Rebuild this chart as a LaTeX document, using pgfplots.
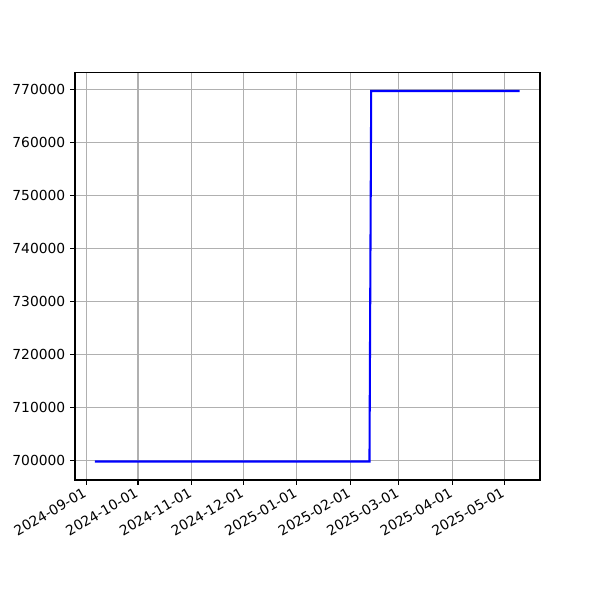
\documentclass[border=0pt]{standalone}
\usepackage{pgfplots}
\pgfplotsset{compat=1.18}
\usepackage{fontspec}
\setmainfont{DejaVu Sans}
\begin{document}
\begin{tikzpicture}
\path[use as bounding box] (-54.2pt,-86.7pt) rectangle (379.4pt,346.9pt);
\begin{axis}[
  at={(0,0)}, anchor=south west,
  scale only axis,
  width=336.0pt, height=294.5pt,
  xmin=-6.5, xmax=262.7,
  ymin=696283, ymax=773170,
  xtick={0,30,61,91,122,153,181,212,242},
  xticklabels={2024-09-01,2024-10-01,2024-11-01,2024-12-01,2025-01-01,2025-02-01,2025-03-01,2025-04-01,2025-05-01},
  ytick={700000,710000,720000,730000,740000,750000,760000,770000},
  scaled y ticks=false,
  yticklabel style={/pgf/number format/.cd, fixed, 1000 sep={}, assume math mode=true},
  xticklabel style={xshift=-2.5pt, rotate=30, anchor=north east, inner sep=1pt},
  tick label style={font=\fontsize{10}{12}\selectfont},
  grid=major,
  grid style={color=black!31, line width=0.8pt},
  axis line style={line width=0.8pt},
  tick style={black, line width=0.8pt},
  tick align=outside,
  major tick length=3.5pt,
  xtick pos=bottom, ytick pos=left,
]
\addplot[blue, line width=1.5pt] coordinates {
(5,699780) (60,699780) (120,699780) (164,699780) (165,769680) (200,769680) (251,769680)
};
\end{axis}
\end{tikzpicture}
\end{document}
